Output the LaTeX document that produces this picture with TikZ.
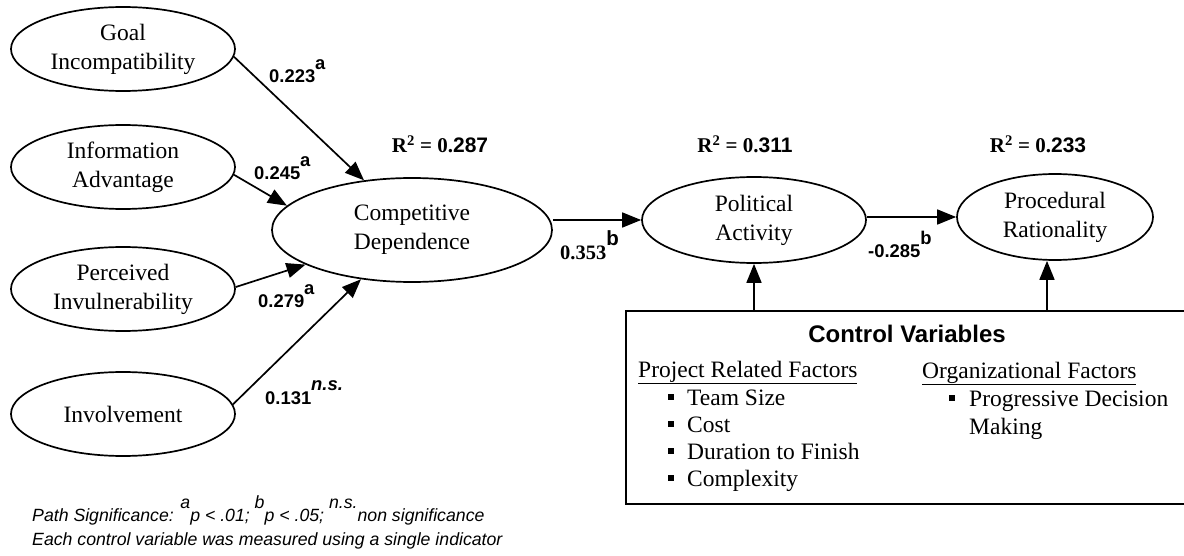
\documentclass[tikz,border=0pt]{standalone}
\usepackage{fontspec}
\setmainfont{Liberation Serif}
\setsansfont{Liberation Sans}
\usetikzlibrary{shapes.geometric,arrows.meta}

\newcommand{\sqbullet}{\rule[0.2em]{6pt}{6pt}}
\newcommand{\upmark}[1]{\raisebox{0.72em}{#1}}

\tikzset{
  construct/.style={draw, ellipse, line width=1.7pt, inner sep=0pt, align=center,
    font=\fontsize{23.5}{29}\selectfont},
  leftvar/.style={construct, minimum width=224pt, minimum height=84pt},
  link/.style={->, line width=1.7pt},
  coef/.style={anchor=base west, inner sep=0pt, font=\sffamily\bfseries\fontsize{18.4}{20}\selectfont},
  rsq/.style={anchor=base, inner sep=0pt, font=\bfseries\fontsize{21}{22}\selectfont},
  listline/.style={anchor=base west, inner sep=0pt, font=\fontsize{23.5}{27}\selectfont},
  noteline/.style={anchor=base west, inner sep=0pt, font=\sffamily\itshape\fontsize{17.7}{24}\selectfont},
}

\begin{document}
\begin{tikzpicture}[x=1pt, y=-1pt, >={Triangle[length=19pt,width=15pt]}]
    \useasboundingbox (0,0) rectangle (1184,556);
    % antecedents
    \node[leftvar] (goal) at (123,49) {Goal\\Incompatibility};
    \node[leftvar] (info) at (123,167) {Information\\Advantage};
    \node[leftvar] (perc) at (123,289) {Perceived\\Invulnerability};
    \node[leftvar] (inv) at (123,414) {Involvement};
    % mediators and outcome
    \node[construct, minimum width=280pt, minimum height=104pt] (comp) at (412,230) {Competitive\\Dependence};
    \node[construct, minimum width=224pt, minimum height=86pt] (pol) at (754,220) {Political\\Activity};
    \node[construct, minimum width=196pt, minimum height=86pt] (proc) at (1055,217) {Procedural\\Rationality};
    \coordinate (procfoot) at ([xshift=-8pt]proc.south);

    % paths
    \draw[link] (goal.-4) -- (comp.134);
    \draw[link] (info.-4) -- (comp.169);
    \draw[link] (perc.1) -- (comp.198);
    \draw[link] (inv.5) -- (comp.224);
    \draw[link] (comp.east |- pol.west) -- (pol.west);
    \draw[link] (pol.east |- proc.west) -- (proc.west);

    % path coefficients
    \node[coef] (c1) at (269,83) {0.223\upmark{a}};
    \node[coef] (c2) at (254,180) {0.245\upmark{a}};
    \node[coef] (c3) at (258,308) {0.279\upmark{a}};
    \node[coef] (c4) at (265,404) {0.131\upmark{\itshape n.s.}};
    \node[coef, font=\bfseries\fontsize{20.5}{22}\selectfont] (c5) at (560,260) {0.353\upmark{\sffamily b}};
    \node[coef] (c6) at (868,258) {-0.285\upmark{b}};

    % explained variance
    \node[rsq] (r1) at (440,153) {R\textsuperscript{2} = 0.{\sffamily 287}};
    \node[rsq] (r2) at (745,153) {R\textsuperscript{2} = 0.{\sffamily 311}};
    \node[rsq] (r3) at (1038,153) {R\textsuperscript{2} = 0.{\sffamily 233}};

    % control variables
    \node[draw, line width=1.7pt, inner sep=0pt, anchor=north west,
      minimum width=570pt, minimum height=193pt] (ctrl) at (625,310) {};
    \draw[link] (ctrl.north -| pol.south) -- (pol.south);
    \draw[link] (ctrl.north -| procfoot) -- (procfoot);
    \node[anchor=base, inner sep=0pt, font=\sffamily\bfseries\fontsize{24}{26}\selectfont] (ctitle) at (907,342) {Control Variables};
    \node[listline] (projhead) at (638,377) {\underline{Project Related Factors}};
    \foreach \txt [count=\i] in {Team Size, Cost, Duration to Finish, Complexity}
        \node[listline] (proj\i) at (668,378+27*\i) {\sqbullet\hspace{13pt}\txt};
    \node[listline] (orghead) at (922,378) {\underline{Organizational Factors}};
    \node[listline] (org1) at (949,406) {\sqbullet\hspace{14pt}Progressive Decision};
    \node[listline] (org2) at (969,434) {Making};

    % footnote
    \node[noteline] (note1) at (32,521) {Path Significance: \upmark{a}p < .01; \upmark{b}p < .05; \upmark{n.s.}non significance};
    \node[noteline] (note2) at (32,545) {Each control variable was measured using a single indicator};
\end{tikzpicture}
\end{document}
